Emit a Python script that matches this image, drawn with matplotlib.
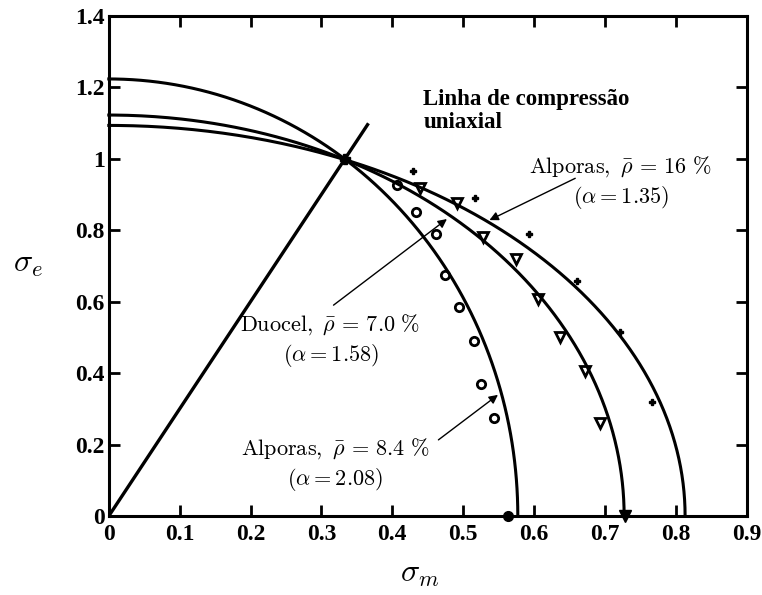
import numpy as np
import matplotlib.pyplot as plt

plt.rcParams['font.family'] = 'Liberation Serif'
plt.rcParams['mathtext.fontset'] = 'cm'

# yield surfaces
alphas = [2.08, 1.58, 1.35]
sm_int = [0.577, 0.727, 0.813]
se_int = [1.223, 1.122, 1.093]

# uniaxial compression line end
line_sm = [0.0, 0.365]
line_se = [0.0, 1.095]

# experimental points
circ_sm = [0.406, 0.433, 0.462, 0.474, 0.494, 0.515, 0.525, 0.543]
circ_se = [0.925, 0.851, 0.788, 0.674, 0.586, 0.490, 0.369, 0.273]
tri_sm = [0.439, 0.491, 0.528, 0.574, 0.606, 0.637, 0.672, 0.693]
tri_se = [0.917, 0.875, 0.781, 0.718, 0.606, 0.500, 0.407, 0.259]
plus_sm = [0.429, 0.516, 0.593, 0.661, 0.721, 0.767]
plus_se = [0.965, 0.889, 0.789, 0.658, 0.516, 0.320]

fig = plt.figure(figsize=(7.62, 5.95), dpi=100)
ax = fig.add_axes([0.1428, 0.1328, 0.8372, 0.8408])

t = np.linspace(0, np.pi / 2, 300)
for a, b in zip(sm_int, se_int):
    ax.plot(a * np.cos(t), b * np.sin(t), color='k', lw=2.2, clip_on=False)

ax.plot(line_sm, line_se, color='k', lw=2.4)

ax.plot(circ_sm, circ_se, 'o', mfc='none', mec='k', ms=6, mew=2)
ax.plot(tri_sm, tri_se, 'v', mfc='none', mec='k', ms=6.5, mew=2)
ax.plot(plus_sm, plus_se, 'P', color='k', ms=5)
ax.plot([0.333], [1.0], 'P', color='k', ms=7)
ax.plot([0.563], [0.0], 'o', color='k', ms=7, clip_on=False, zorder=5)
ax.plot([0.728], [0.0], 'v', color='k', ms=8, clip_on=False, zorder=5)

ax.text(0.4436, 1.133, 'Linha de compressão\nuniaxial', fontsize=16.5,
        fontweight='bold', ha='left', va='center', linespacing=1.15)

arr = dict(arrowstyle='-|>', lw=1, color='k', mutation_scale=13, shrinkA=0, shrinkB=0)
ax.annotate('', xy=(0.537, 0.828), xytext=(0.658, 0.945), arrowprops=arr)
ax.annotate('', xy=(0.477, 0.831), xytext=(0.317, 0.590), arrowprops=arr)
ax.annotate('', xy=(0.549, 0.339), xytext=(0.465, 0.213), arrowprops=arr)

ax.text(0.722, 0.933, r'$\mathrm{Alporas,}\ \bar{\rho}\,=\,16\ \%$' + '\n' + r'$(\alpha = 1.35)$',
        fontsize=16, ha='center', va='center', linespacing=1.25)
ax.text(0.3127, 0.491, r'$\mathrm{Duocel,}\ \bar{\rho}\,=\,7.0\ \%$' + '\n' + r'$(\alpha = 1.58)$',
        fontsize=16, ha='center', va='center', linespacing=1.25)
ax.text(0.319, 0.143, r'$\mathrm{Alporas,}\ \bar{\rho}\,=\,8.4\ \%$' + '\n' + r'$(\alpha = 2.08)$',
        fontsize=16, ha='center', va='center', linespacing=1.25)

ax.set_xlim(0, 0.9)
ax.set_ylim(0, 1.4)
ax.set_xticks(np.arange(0, 0.91, 0.1))
ax.set_yticks(np.arange(0, 1.41, 0.2))
ax.set_xticklabels(['0', '0.1', '0.2', '0.3', '0.4', '0.5', '0.6', '0.7', '0.8', '0.9'])
ax.set_yticklabels(['0', '0.2', '0.4', '0.6', '0.8', '1', '1.2', '1.4'])
ax.tick_params(direction='in', length=8, width=2, top=True, right=True, labelsize=17)
ax.tick_params(axis='x', pad=6)
ax.tick_params(axis='y', pad=3)
for lab in ax.get_xticklabels() + ax.get_yticklabels():
    lab.set_fontweight('bold')
for s in ax.spines.values():
    s.set_linewidth(2.2)

fig.text(0.037, 0.555, r'$\sigma_e$', fontsize=23, ha='center', va='center')
fig.text(0.551, 0.034, r'$\sigma_m$', fontsize=23, ha='center', va='center')

fig.savefig('out.png', dpi=100)
